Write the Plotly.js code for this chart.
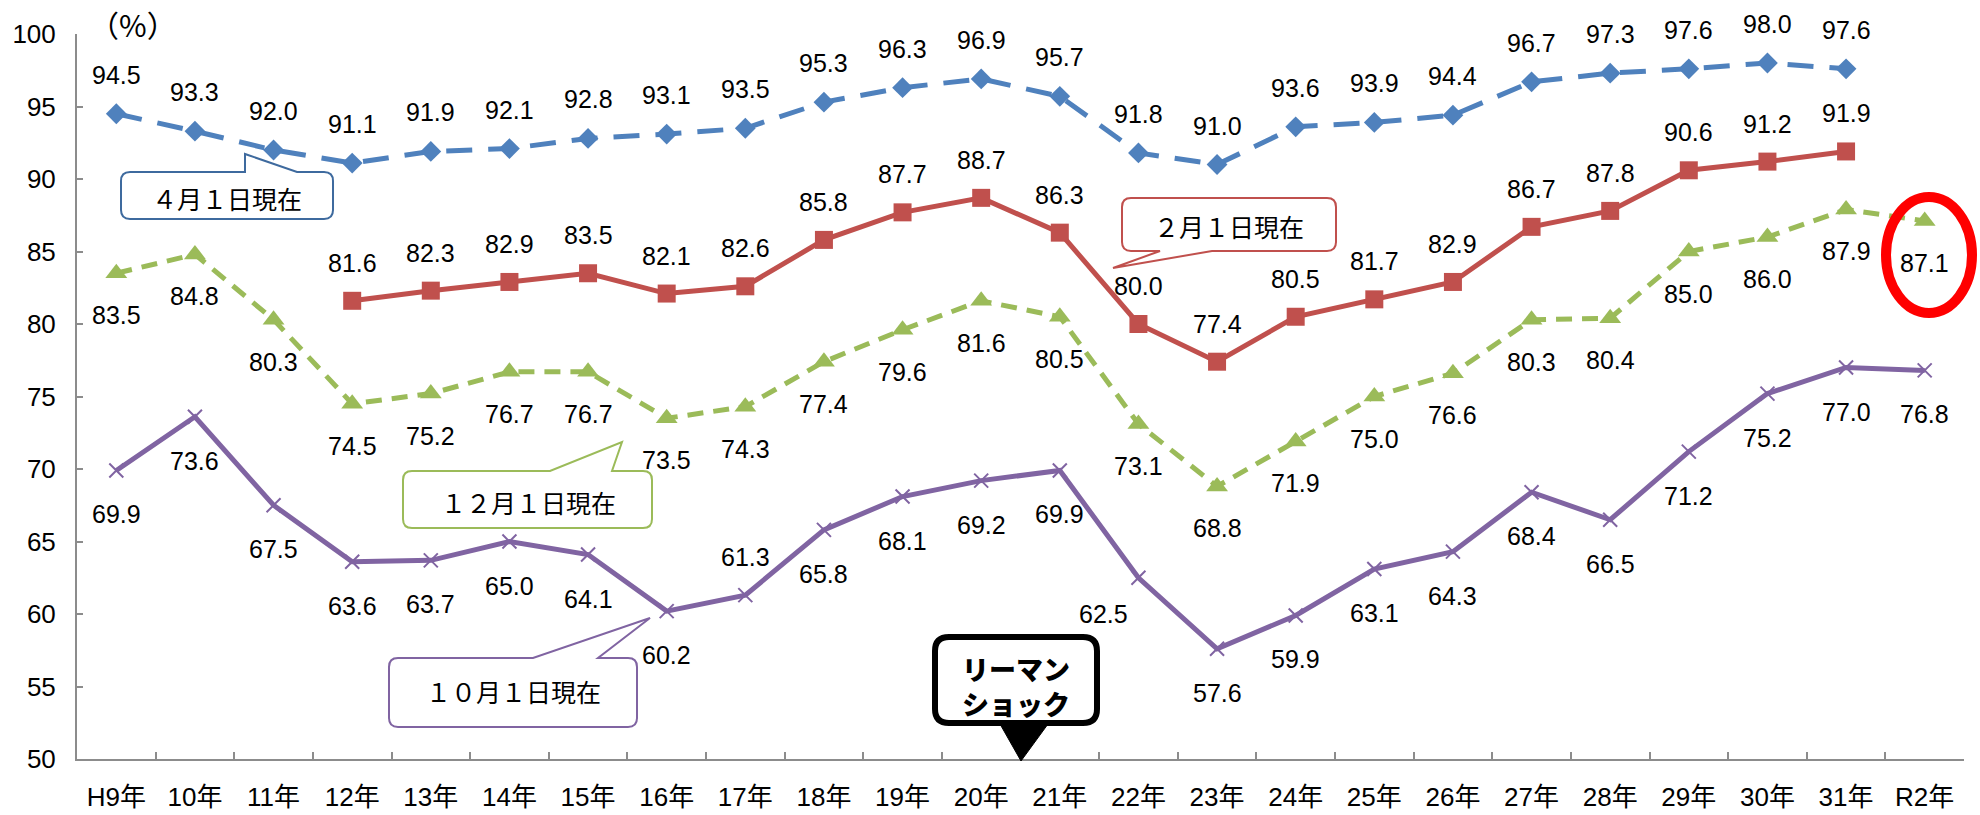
<!DOCTYPE html>
<html>
<head>
<meta charset="utf-8">
<script src="https://cdn.plot.ly/plotly-3.0.1.min.js"></script>
<style>
  html, body { margin: 0; padding: 0; background: #ffffff; }
  #chart { width: 1980px; height: 815px; }
</style>
</head>
<body>
<div id="chart"></div>
<script>
// ---- data ----
const categories = ['H9年','10年','11年','12年','13年','14年','15年','16年','17年','18年','19年','20年',
                    '21年','22年','23年','24年','25年','26年','27年','28年','29年','30年','31年','R2年'];
const apr1 = [94.5, 93.3, 92.0, 91.1, 91.9, 92.1, 92.8, 93.1, 93.5, 95.3, 96.3, 96.9,
              95.7, 91.8, 91.0, 93.6, 93.9, 94.4, 96.7, 97.3, 97.6, 98.0, 97.6, null];
const feb1 = [null, null, null, 81.6, 82.3, 82.9, 83.5, 82.1, 82.6, 85.8, 87.7, 88.7,
              86.3, 80.0, 77.4, 80.5, 81.7, 82.9, 86.7, 87.8, 90.6, 91.2, 91.9, null];
const dec1 = [83.5, 84.8, 80.3, 74.5, 75.2, 76.7, 76.7, 73.5, 74.3, 77.4, 79.6, 81.6,
              80.5, 73.1, 68.8, 71.9, 75.0, 76.6, 80.3, 80.4, 85.0, 86.0, 87.9, 87.1];
const oct1 = [69.9, 73.6, 67.5, 63.6, 63.7, 65.0, 64.1, 60.2, 61.3, 65.8, 68.1, 69.2,
              69.9, 62.5, 57.6, 59.9, 63.1, 64.3, 68.4, 66.5, 71.2, 75.2, 77.0, 76.8];
const calloutTexts = ['４月１日現在', '２月１日現在', '１２月１日現在', '１０月１日現在'];
const lehmanText = 'リーマン<br>ショック';
const unitLabel = '（%）';

// ---- layout geometry (pixels) ----
const L = 77, T = 34, PW = 1887, PH = 725;
const fx = px => (px - L) / PW;
const fy = py => 1 - (py - T) / PH;

const C_BLUE = '#4F81BD', C_RED = '#C0504D', C_GREEN = '#9BBB59', C_PURPLE = '#8064A2';
const AXIS = '#8c8c8c';
const LABEL_FONT = {family: 'Liberation Sans, Arial, sans-serif', size: 25, color: '#000'};

const traces = [
  {x: categories, y: apr1, type: 'scatter', mode: 'lines+markers', connectgaps: false,
   line: {color: C_BLUE, width: 5, dash: '26px,16px'},
   marker: {symbol: 'diamond', size: 16, color: C_BLUE}},
  {x: categories, y: feb1, type: 'scatter', mode: 'lines+markers', connectgaps: false,
   line: {color: C_RED, width: 5},
   marker: {symbol: 'square', size: 18, color: C_RED}},
  {x: categories, y: dec1, type: 'scatter', mode: 'lines+markers',
   line: {color: C_GREEN, width: 5, dash: '16px,10px'},
   marker: {symbol: 'triangle-up', size: 19, color: C_GREEN}},
  {x: categories, y: oct1, type: 'scatter', mode: 'lines+markers',
   line: {color: C_PURPLE, width: 5},
   marker: {symbol: 'x-thin', size: 14, color: C_PURPLE, line: {color: C_PURPLE, width: 2}}}
];

// ---- data labels ----
const annotations = [];
function addLabels(vals, defShift, special) {
  vals.forEach((v, i) => {
    if (v === null) return;
    const s = (special && special[i]) || [0, defShift];
    annotations.push({x: categories[i], y: v, xref: 'x', yref: 'y', text: v.toFixed(1),
      showarrow: false, xshift: s[0], yshift: s[1], font: LABEL_FONT});
  });
}
addLabels(apr1, 39);
addLabels(feb1, 38);
addLabels(dec1, -42);
addLabels(oct1, -44, {8: [0, 38], 13: [-35, -36]});

// ---- callouts ----
function calloutPath(x0, y0, x1, y1, r, tail) {
  const P = (x, y) => fx(x).toFixed(5) + ',' + fy(y).toFixed(5);
  let d = 'M' + P(x0 + r, y0);
  if (tail && tail.side === 'top') d += ' L' + P(tail.a, y0) + ' L' + P(tail.tip[0], tail.tip[1]) + ' L' + P(tail.b, y0);
  d += ' L' + P(x1 - r, y0) + ' Q' + P(x1, y0) + ' ' + P(x1, y0 + r);
  d += ' L' + P(x1, y1 - r) + ' Q' + P(x1, y1) + ' ' + P(x1 - r, y1);
  if (tail && tail.side === 'bottom') d += ' L' + P(tail.b, y1) + ' L' + P(tail.tip[0], tail.tip[1]) + ' L' + P(tail.a, y1);
  d += ' L' + P(x0 + r, y1) + ' Q' + P(x0, y1) + ' ' + P(x0, y1 - r);
  d += ' L' + P(x0, y0 + r) + ' Q' + P(x0, y0) + ' ' + P(x0 + r, y0) + ' Z';
  return d;
}
const shapes = [];
function callout(box, tail, color, width) {
  shapes.push({type: 'path', xref: 'paper', yref: 'paper', layer: 'above',
    path: calloutPath(box[0], box[1], box[2], box[3], box[4], tail),
    fillcolor: '#ffffff', line: {color: color, width: width}});
}
callout([121, 172, 333, 219, 9], {side: 'top', a: 245, tip: [245, 154], b: 297}, '#3E6A9E', 2);
callout([1122, 198, 1336, 251, 9], {side: 'bottom', a: 1160, tip: [1113, 268], b: 1212}, C_RED, 2);
callout([403, 471, 652, 528, 9], {side: 'top', a: 550, tip: [622, 442], b: 612}, C_GREEN, 2);
callout([389, 658, 637, 727, 9], {side: 'top', a: 533, tip: [650, 618], b: 598}, C_PURPLE, 2);
callout([935, 637, 1097, 723, 14], null, '#000000', 6);
shapes.push({type: 'path', xref: 'paper', yref: 'paper', layer: 'above',
  path: 'M' + fx(1000) + ',' + fy(724) + ' L' + fx(1048) + ',' + fy(724) + ' L' + fx(1021) + ',' + fy(761) + ' Z',
  fillcolor: '#000000', line: {color: '#000000', width: 1}});
// red ellipse
shapes.push({type: 'circle', xref: 'paper', yref: 'paper', layer: 'above',
  x0: fx(1886), x1: fx(1972), y0: fy(313), y1: fy(197),
  line: {color: '#FF0000', width: 10}, fillcolor: 'rgba(0,0,0,0)'});

const CJK = 'Noto Sans CJK JP, sans-serif';
function textAt(px, py, text, font) {
  annotations.push({xref: 'paper', yref: 'paper', x: fx(px), y: fy(py), text: text,
    showarrow: false, xanchor: 'center', yanchor: 'middle', font: font});
}
const calloutFont = {family: CJK, size: 25, color: '#000'};
textAt(227, 198, calloutTexts[0], calloutFont);
textAt(1229, 226, calloutTexts[1], calloutFont);
textAt(528, 502, calloutTexts[2], calloutFont);
textAt(513, 691, calloutTexts[3], calloutFont);
textAt(1016, 686, lehmanText, {family: CJK, size: 27, color: '#000', weight: 900});
textAt(133, 24, unitLabel, {family: 'Noto Sans CJK JP', size: 30, color: '#000'});

const layout = {
  width: 1980, height: 815,
  margin: {l: L, r: 1980 - L - PW, t: T, b: 815 - T - PH},
  paper_bgcolor: '#ffffff', plot_bgcolor: '#ffffff',
  showlegend: false, hovermode: false,
  xaxis: {type: 'category', categoryorder: 'array', categoryarray: categories,
    range: [-0.5, categories.length - 0.5], showgrid: false, zeroline: false,
    showline: true, linecolor: AXIS, linewidth: 2,
    ticks: 'inside', ticklen: 7, tickwidth: 2, tickcolor: AXIS, tickson: 'boundaries',
    tickfont: {family: 'Liberation Sans, Noto Sans CJK JP, sans-serif', size: 26, color: '#000'},
    ticklabelstandoff: 14},
  yaxis: {range: [50, 100], dtick: 5, tick0: 50, showgrid: false, zeroline: false,
    showline: true, linecolor: AXIS, linewidth: 2,
    ticks: 'inside', ticklen: 6, tickwidth: 2, tickcolor: AXIS,
    tickfont: {family: 'Liberation Sans, Arial, sans-serif', size: 26, color: '#000'},
    ticklabelstandoff: 14},
  annotations: annotations,
  shapes: shapes
};

Plotly.newPlot('chart', traces, layout, {staticPlot: true, displayModeBar: false});
</script>
</body>
</html>
